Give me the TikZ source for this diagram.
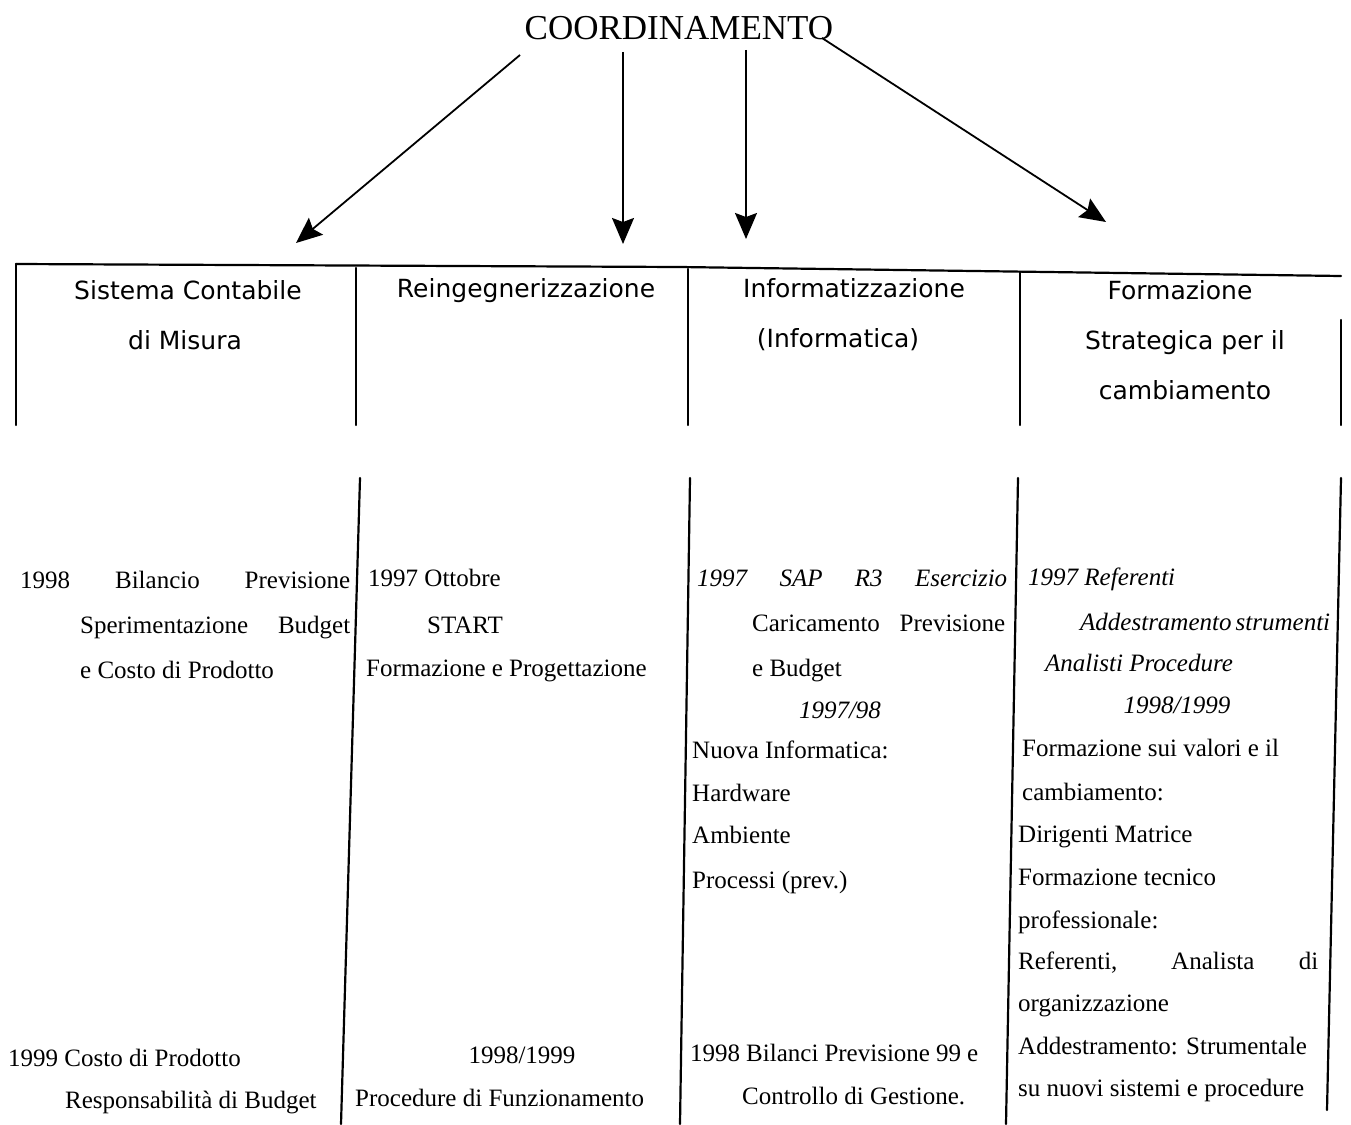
\documentclass[tikz,border=0pt]{standalone}
\usepackage{fontspec}
\setmainfont{Liberation Serif}
\newfontfamily\hdrfont{DejaVu Sans}
\usetikzlibrary{arrows.meta}
\begin{document}
\begin{tikzpicture}[x=1pt,y=-1pt,
  tbl/.style={line width=2.2pt, line cap=round},
  arr/.style={line width=1.8pt, -{Stealth[length=26pt,width=22pt,inset=4pt]}},
  body/.style={inner sep=0pt, font=\fontsize{25}{30}\selectfont, anchor=base west},
  bodyc/.style={body, anchor=base},
  hdr/.style={inner sep=0pt, font=\hdrfont\fontsize{25}{30}\selectfont, anchor=base},
]
\useasboundingbox[fill=white] (0,0) rectangle (1351,1124);

% title
\node[inner sep=0pt, anchor=base, font=\fontsize{35}{40}\selectfont] (title) at (679,40) {COORDINAMENTO};

% arrow end points
\coordinate (s1) at (520,55);   \coordinate (e1) at (296,243);
\coordinate (s2) at (623,52);   \coordinate (e2) at (623,244);
\coordinate (s3) at (746,50);   \coordinate (e3) at (746,239);
\coordinate (s4) at (822,38);   \coordinate (e4) at (1106,222);
\draw[arr] (s1) -- (e1);
\draw[arr] (s2) -- (e2);
\draw[arr] (s3) -- (e3);
\draw[arr] (s4) -- (e4);

% table lines, header band
\draw[tbl] (16,264) -- (680,267) -- (1341,276);
\draw[tbl] (16,264) -- (16,425);
\draw[tbl] (356,268) -- (356,425);
\draw[tbl] (688,269) -- (688,425);
\draw[tbl] (1020,272) -- (1020,425);
\draw[tbl] (1341,320) -- (1341,425);

% table lines, body band
\draw[tbl] (360,478) -- (341,1124);
\draw[tbl] (690,478) -- (680,1124);
\draw[tbl] (1018,478) -- (1006,1124);
\draw[tbl] (1341,478) -- (1327,1110);

% headers
\node[hdr] (h1a) at (188,299) {Sistema Contabile};
\node[hdr] (h1b) at (185,349) {di Misura};
\node[hdr] (h2a) at (526,297) {Reingegnerizzazione};
\node[hdr] (h3a) at (854,297) {Informatizzazione};
\node[hdr] (h3b) at (838,347) {(Informatica)};
\node[hdr] (h4a) at (1180,299) {Formazione};
\node[hdr] (h4b) at (1185,349) {Strategica per il};
\node[hdr] (h4c) at (1185,399) {cambiamento};

% column 1
\node[body] (c1a) at (20,588) {\makebox[330pt][s]{1998 Bilancio Previsione}};
\node[body] (c1b) at (80,633) {\makebox[270pt][s]{Sperimentazione Budget}};
\node[body] (c1c) at (80,678) {e Costo di Prodotto};
\node[body] (c1d) at (8,1066) {1999 Costo di Prodotto};
\node[body] (c1e) at (65,1108) {Responsabilità di Budget};

% column 2
\node[body] (c2a) at (368,586) {1997 Ottobre};
\node[bodyc] (c2b) at (465,633) {START};
\node[body] (c2c) at (366,676) {Formazione e Progettazione};
\node[bodyc] (c2d) at (522,1063) {1998/1999};
\node[body] (c2e) at (355,1106) {Procedure di Funzionamento};

% column 3
\node[body] (c3a) at (697,586) {\itshape\makebox[310pt][s]{1997 SAP R3 Esercizio}};
\node[body] (c3b) at (752,631) {\makebox[253pt][s]{Caricamento Previsione}};
\node[body] (c3c) at (752,676) {e Budget};
\node[bodyc] (c3d) at (840,718) {\itshape 1997/98};
\node[body] (c3e) at (692,758) {Nuova Informatica:};
\node[body] (c3f) at (692,801) {Hardware};
\node[body] (c3g) at (692,843) {Ambiente};
\node[body] (c3h) at (692,888) {Processi (prev.)};
\node[body] (c3i) at (690,1061) {\makebox[288pt][s]{1998 Bilanci Previsione 99 e}};
\node[body] (c3j) at (742,1104) {Controllo di Gestione.};

% column 4
\node[body] (c4a) at (1028,585) {\itshape 1997 Referenti};
\node[body] (c4b) at (1080,630) {\itshape\makebox[245pt][s]{Addestramento strumenti}};
\node[body] (c4c) at (1045,671) {\itshape Analisti Procedure};
\node[bodyc] (c4d) at (1177,713) {\itshape 1998/1999};
\node[body] (c4e) at (1022,756) {Formazione sui valori e il};
\node[body] (c4f) at (1022,800) {cambiamento:};
\node[body] (c4g) at (1018,842) {Dirigenti Matrice};
\node[body] (c4h) at (1018,885) {Formazione tecnico};
\node[body] (c4i) at (1018,928) {professionale:};
\node[body] (c4j) at (1018,969) {\makebox[300pt][s]{Referenti, Analista di}};
\node[body] (c4k) at (1018,1011) {organizzazione};
\node[body] (c4l) at (1018,1054) {Addestramento: Strumentale};
\node[body] (c4m) at (1018,1096) {su nuovi sistemi e procedure};
\end{tikzpicture}
\end{document}
